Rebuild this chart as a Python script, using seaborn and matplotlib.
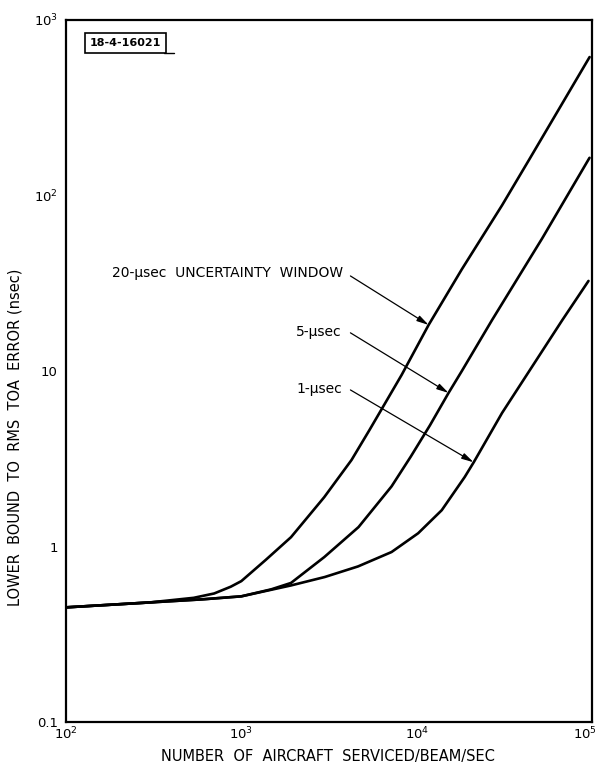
import matplotlib
matplotlib.use("Agg")
import matplotlib.pyplot as plt
import matplotlib.transforms as mtransforms
import seaborn as sns
import pandas as pd
from matplotlib.lines import Line2D

# ---- data ----
x_20us = [100, 300, 535, 700, 870, 1000, 1380, 1920, 2970, 4250, 5380, 8210, 11700, 18100, 30700, 43800, 96900]
y_20us = [0.45, 0.48, 0.51, 0.54, 0.59, 0.635, 0.84, 1.13, 1.91, 3.11, 4.61, 9.5, 18.3, 38, 88, 160, 615]

x_5us = [100, 300, 600, 1000, 1480, 1920, 2970, 4660, 7190, 9250, 11900, 15200, 18100, 26900, 52000, 96800]
y_5us = [0.45, 0.48, 0.50, 0.52, 0.57, 0.62, 0.87, 1.29, 2.20, 3.25, 4.90, 7.5, 10.0, 19.5, 57, 164]

x_1us = [100, 300, 600, 1000, 1920, 2990, 4630, 7190, 10200, 13900, 18800, 21200, 30700, 67700, 95500]
y_1us = [0.45, 0.48, 0.50, 0.52, 0.60, 0.67, 0.77, 0.93, 1.19, 1.61, 2.49, 3.03, 5.77, 19.5, 32.6]

series_names = ["20-µsec", "5-µsec", "1-µsec"]
x_ticks = [1e2, 1e3, 1e4, 1e5]
x_tick_labels = ["10$^2$", "10$^3$", "10$^4$", "10$^5$"]
y_ticks = [0.1, 1, 10, 100, 1000]
y_tick_labels = ["0.1", "1", "10", "10$^2$", "10$^3$"]

annot_texts = ["20-µsec  UNCERTAINTY  WINDOW", "5-µsec", "1-µsec"]
annot_text_pos = [(3800, 36.2), (3720, 16.7), (3770, 7.9)]
annot_start = [(4190, 34.8), (4190, 16.5), (4190, 7.8)]
annot_tip = [(11700, 18.3), (15200, 7.5), (21100, 3.02)]

x_label = "NUMBER  OF  AIRCRAFT  SERVICED/BEAM/SEC"
y_label = "LOWER  BOUND  TO  RMS  TOA  ERROR (nsec)"
fig_id = "18-4-16021"

# ---- build table ----
frames = []
for name, xs, ys in zip(series_names, [x_20us, x_5us, x_1us], [y_20us, y_5us, y_1us]):
    frames.append(pd.DataFrame({"x": xs, "y": ys, "series": name}))
df = pd.concat(frames, ignore_index=True)

sns.set_style("white")
plt.rcParams["font.family"] = ["DejaVu Sans"]
plt.rcParams["text.color"] = "black"
plt.rcParams["xtick.color"] = "black"
plt.rcParams["ytick.color"] = "black"

fig = plt.figure(figsize=(5.97, 7.71), dpi=100)
ax = fig.add_axes([66 / 597, 1 - 722 / 771, (592 - 66) / 597, (722 - 20) / 771])

sns.lineplot(data=df, x="x", y="y", hue="series", units="series", estimator=None,
             palette=["black"] * 3, linewidth=1.9, legend=False, sort=False, ax=ax)
for ln in ax.get_lines():
    ln.set_solid_joinstyle("round")

ax.set_xscale("log")
ax.set_yscale("log")
ax.set_xlim(1e2, 1e5)
ax.set_ylim(0.1, 1e3)

ax.set_xticks(x_ticks)
ax.set_xticklabels(x_tick_labels, fontsize=9.5)
ax.set_yticks(y_ticks)
ax.set_yticklabels(y_tick_labels, fontsize=9.5)
ax.minorticks_off()
ax.tick_params(axis="both", which="major", direction="in", length=10, width=1.3,
               colors="black", labelcolor="black")
ax.tick_params(axis="x", pad=3)
ax.tick_params(axis="y", pad=6)
for s in ax.spines.values():
    s.set_linewidth(1.6)
    s.set_color("black")

# keep the last x tick label inside the figure, as in the reference
last = ax.get_xticklabels()[-1]
last.set_ha("right")
last.set_transform(last.get_transform() + mtransforms.ScaledTranslation(5 / 100, 0, fig.dpi_scale_trans))

ax.set_xlabel("")
ax.set_ylabel("")
fig.text(328 / 597, 1 - 756 / 771, x_label, ha="center", va="center", fontsize=10.5, color="black")
fig.text(15 / 597, 1 - 437 / 771, y_label, ha="center", va="center", fontsize=10.5, rotation=90,
         color="black")

for txt, tp, st, tip in zip(annot_texts, annot_text_pos, annot_start, annot_tip):
    ax.text(tp[0], tp[1], txt, ha="right", va="center", fontsize=10, color="black")
    ax.annotate("", xy=tip, xytext=st, xycoords="data", textcoords="data",
                arrowprops=dict(arrowstyle="-|>,head_length=0.7,head_width=0.18",
                                color="black", lw=0.9, shrinkA=0, shrinkB=0))

fig.text(125.5 / 597, 1 - 42.5 / 771, fig_id, ha="center", va="center", fontsize=8,
         fontweight="bold", color="black",
         bbox=dict(boxstyle="square,pad=0.45", fc="white", ec="black", lw=1.2))
fig.add_artist(Line2D([164 / 597, 174 / 597], [1 - 53 / 771, 1 - 53 / 771],
                      color="black", lw=1.0, transform=fig.transFigure))

fig.savefig("out.png", dpi=100)
